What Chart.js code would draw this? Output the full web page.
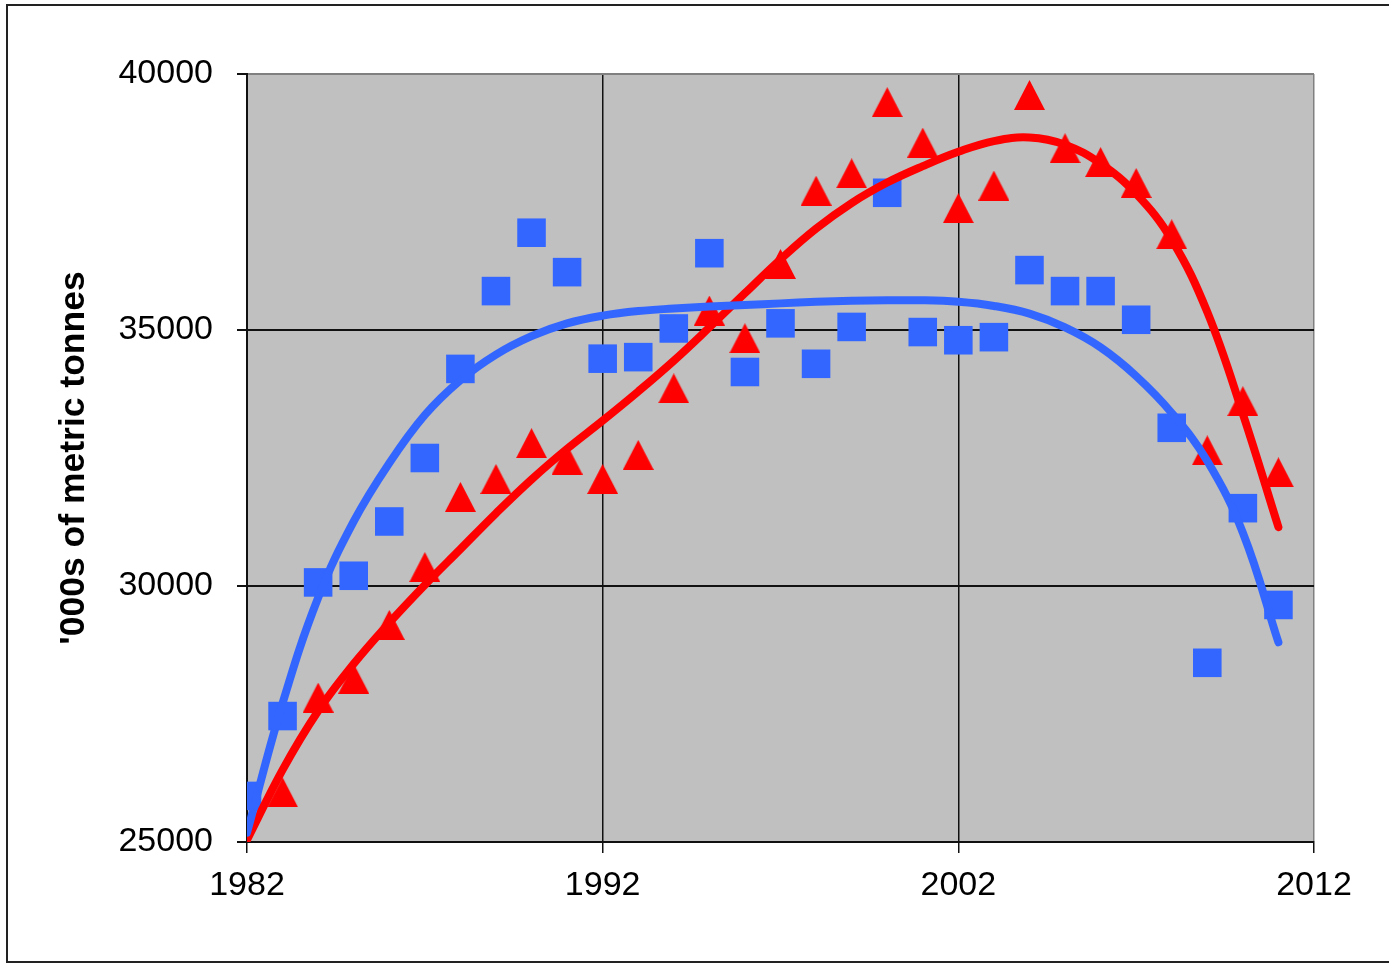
<!DOCTYPE html>
<html>
<head>
<meta charset="utf-8">
<title>'000s of metric tonnes, 1982-2011</title>
<script src="https://cdn.jsdelivr.net/npm/chart.js@4.4.0/dist/chart.umd.min.js"></script>
<style>
  html, body { margin: 0; padding: 0; background: #fff; }
  #marco { position: absolute; left: 6px; top: 4px; width: 1400px; height: 959px; border: 2px solid #222; box-sizing: border-box; }
  #contenedor { position: absolute; left: 0; top: 0; width: 1389px; height: 963px; }
</style>
</head>
<body>
<div id="marco"></div>
<div id="contenedor"><canvas id="grafico"></canvas></div>
<script>
const anios = [1982, 1983, 1984, 1985, 1986, 1987, 1988, 1989, 1990, 1991,
               1992, 1993, 1994, 1995, 1996, 1997, 1998, 1999, 2000, 2001,
               2002, 2003, 2004, 2005, 2006, 2007, 2008, 2009, 2010, 2011];

// serie azul (cuadrados)
const serieAzul = [25900, 27460, 30070, 30200, 31260, 32500, 34240, 35760, 36900, 36130,
                   34440, 34470, 35030, 36500, 34180, 35130, 34340, 35060, 37680, 34960,
                   34800, 34860, 36170, 35760, 35760, 35200, 33090, 28500, 31520, 29630];

// serie roja (triangulos)
const serieRoja = [null, 25970, 27820, 28190, 29240, 30370, 31740, 32090, 32790, 32470,
                   32090, 32560, 33860, 35380, 34840, 36290, 37720, 38060, 39450, 38660,
                   37380, 37820, 39590, 38550, 38280, 37870, 36870, 32650, 33610, 32220];

// lineas de tendencia
const tendenciaAzul = [25180, 27710, 29770, 31260, 32400, 33340, 34020, 34520, 34880, 35130,
                       35280, 35370, 35420, 35460, 35490, 35520, 35550, 35570, 35580, 35580,
                       35550, 35470, 35320, 35050, 34660, 34100, 33380, 32440, 31040, 28900];

const tendenciaRoja = [25040, 26410, 27560, 28480, 29280, 30020, 30720, 31420, 32080, 32680,
                       33230, 33800, 34400, 35050, 35720, 36380, 36980, 37480, 37880, 38200,
                       38480, 38690, 38760, 38620, 38250, 37660, 36760, 35350, 33360, 31150];

const ticksX = [1982, 1992, 2002, 2012];
const ticksY = [25000, 30000, 35000, 40000];

const azul = '#3366FF';
const rojo = '#FF0000';
const fuente = "'Liberation Sans', Arial, sans-serif";

function puntos(valores) {
    return anios.map((a, i) => ({ x: a, y: valores[i] }));
}

function hacerTriangulo(color, ancho, alto) {
    const c = document.createElement('canvas');
    c.width = ancho;
    c.height = alto;
    const g = c.getContext('2d');
    g.fillStyle = color;
    g.beginPath();
    g.moveTo(ancho / 2, 0);
    g.lineTo(ancho, alto);
    g.lineTo(0, alto);
    g.closePath();
    g.fill();
    return c;
}

const fondoGris = {
    id: 'fondoGris',
    beforeDraw(chart) {
        const { ctx, chartArea: a } = chart;
        ctx.save();
        ctx.fillStyle = '#C0C0C0';
        ctx.fillRect(a.left, a.top, a.right - a.left, a.bottom - a.top);
        ctx.restore();
    }
};

const ctx = document.getElementById('grafico').getContext('2d');

new Chart(ctx, {
    type: 'scatter',
    data: {
        datasets: [
            {
                label: 'Tendencia azul',
                data: puntos(tendenciaAzul),
                showLine: true,
                borderColor: azul,
                borderWidth: 8,
                borderCapStyle: 'round',
                tension: 0.4,
                pointRadius: 0,
                order: 0
            },
            {
                label: 'Tendencia roja',
                data: puntos(tendenciaRoja),
                showLine: true,
                borderColor: rojo,
                borderWidth: 8,
                borderCapStyle: 'round',
                tension: 0.4,
                pointRadius: 0,
                order: 1
            },
            {
                label: 'Azul',
                data: puntos(serieAzul),
                pointStyle: 'rect',
                pointRadius: 20.2,
                backgroundColor: azul,
                borderWidth: 0,
                order: 2
            },
            {
                label: 'Rojo',
                data: puntos(serieRoja),
                pointStyle: hacerTriangulo(rojo, 31, 30),
                pointRadius: 16,
                backgroundColor: rojo,
                borderWidth: 0,
                order: 3
            }
        ]
    },
    options: {
        responsive: true,
        maintainAspectRatio: false,
        animation: false,
        layout: {
            padding: { left: 0, top: 74, right: 75, bottom: 41 }
        },
        plugins: {
            legend: { display: false },
            tooltip: { enabled: false }
        },
        scales: {
            x: {
                type: 'linear',
                position: 'bottom',
                min: 1982,
                max: 2012,
                afterBuildTicks: s => { s.ticks = ticksX.map(v => ({ value: v })); },
                afterFit: s => { s.height = 80; },
                ticks: {
                    callback: v => String(v),
                    color: '#000',
                    padding: 12,
                    maxRotation: 0,
                    font: { family: fuente, size: 34 }
                },
                grid: {
                    color: c => (c.tick && c.tick.value === 2012) ? '#808080' : '#111',
                    lineWidth: 1.5,
                    tickLength: 11,
                    tickColor: '#111'
                },
                border: { color: '#111', width: 2 }
            },
            y: {
                min: 25000,
                max: 40000,
                afterBuildTicks: s => { s.ticks = ticksY.map(v => ({ value: v })); },
                afterFit: s => { s.width = 247; },
                ticks: {
                    callback: v => String(v),
                    color: '#000',
                    padding: 24,
                    font: { family: fuente, size: 34 }
                },
                grid: {
                    color: c => (c.tick && c.tick.value === 40000) ? '#808080' : '#111',
                    lineWidth: 2,
                    tickLength: 10,
                    tickColor: '#111'
                },
                border: { color: '#111', width: 2 },
                title: {
                    display: true,
                    text: "'000s of metric tonnes",
                    color: '#000',
                    padding: { top: 53, bottom: 0 },
                    font: { family: fuente, size: 35.5, weight: 'bold' }
                }
            }
        }
    },
    plugins: [fondoGris]
});
</script>
</body>
</html>
